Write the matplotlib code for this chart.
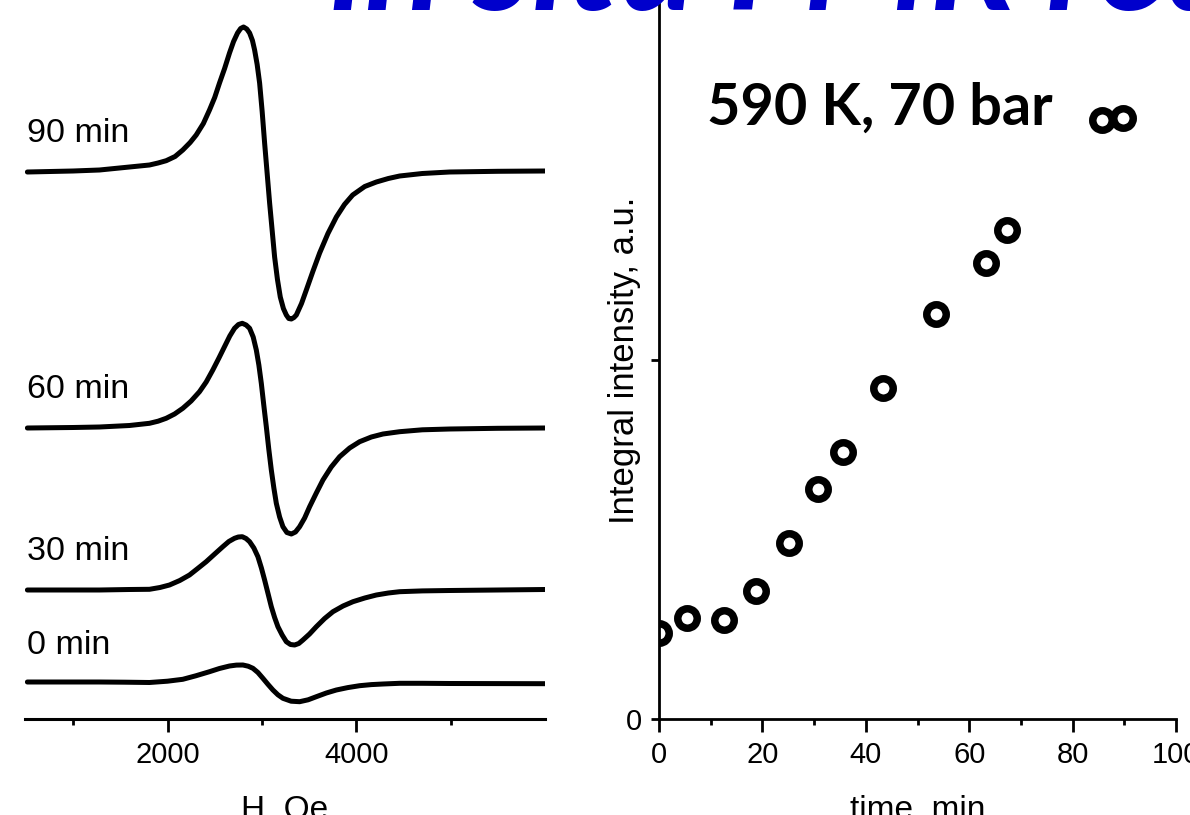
import matplotlib.pyplot as plt

# FMR spectra, field in Oe, signal in a.u. relative to each baseline
field_90 = [515, 1000, 1279, 1597, 1809, 1900, 1986, 2080, 2162, 2240, 2304, 2380, 2445, 2500, 2551,
            2605, 2657, 2700, 2742, 2775, 2806, 2840, 2870, 2900, 2923, 2950, 2976, 3003, 3029, 3056,
            3082, 3110, 3135, 3165, 3195, 3228, 3259, 3285, 3312, 3340, 3365, 3420, 3471, 3540, 3612,
            3700, 3789, 3875, 3962, 4090, 4213, 4340, 4460, 4700, 4990, 5500, 5998]
signal_90 = [-0.5, 0.5, 1.5, 4.5, 6.5, 8.5, 10.8, 15, 21.5, 29, 36.5, 48, 61.5, 74, 88.5,
             103, 118.5, 130, 138.5, 143, 144.5, 142.5, 138.5, 131, 121.5, 107, 88.5, 60, 28.5, -2,
             -31.5, -60, -85.5, -108, -125.5, -137, -143.5, -147, -147.5, -146, -143.5, -132, -118.5, -100, -81.5,
             -62, -45.5, -33, -23.5, -15, -10.5, -7, -4.5, -2, -0.5, 0.2, 0.5]

field_60 = [515, 1000, 1279, 1597, 1809, 1900, 1986, 2075, 2162, 2250, 2339, 2410, 2480, 2545, 2604,
            2660, 2710, 2752, 2792, 2833, 2870, 2908, 2941, 2968, 2994, 3020, 3047, 3073, 3100, 3127,
            3153, 3188, 3223, 3265, 3312, 3356, 3400, 3453, 3506, 3577, 3647, 3735, 3824, 3930, 4036,
            4160, 4283, 4460, 4700, 4990, 5500, 5998]
signal_60 = [0, 0.5, 1, 2.5, 4.7, 6.8, 9.7, 14, 19.7, 27, 36.3, 46, 58, 70, 81.3,
             92, 99.7, 103.5, 104.7, 103, 99.7, 91, 78, 63, 44.7, 23, 1.3, -21, -42, -60,
             -75.3, -89, -98.7, -104.5, -106, -104, -98.7, -90, -78.7, -65, -52, -39, -28.7, -20, -13.7,
             -9, -6, -3.7, -1.8, -1, -0.3, 0]

field_30 = [515, 1000, 1279, 1597, 1809, 1920, 2021, 2130, 2233, 2320, 2410, 2500, 2586, 2650, 2710,
            2750, 2792, 2832, 2870, 2915, 2958, 2995, 3029, 3065, 3100, 3135, 3170, 3215, 3259, 3303,
            3347, 3391, 3435, 3505, 3577, 3665, 3753, 3860, 3965, 4090, 4213, 4340, 4460, 4700, 4990,
            5500, 5998]
signal_30 = [0, 0, 0, 0.5, 0.7, 2.5, 5, 9.5, 15, 21.5, 28.3, 36, 43.3, 48.5, 51.7,
             53, 53.3, 51.5, 48.3, 42, 33.3, 22, 10, -3.5, -16.7, -27.5, -36.7, -45, -51.7, -54.5,
             -55, -53.5, -50, -44, -36.7, -28.5, -21.7, -16, -11.7, -8, -5, -3, -1.7, -0.9, -0.5,
             0, 0.5]

field_0 = [515, 1000, 1279, 1550, 1809, 2000, 2162, 2300, 2445, 2550, 2657, 2730, 2799, 2855, 2905,
           2958, 3011, 3064, 3117, 3170, 3223, 3310, 3400, 3490, 3577, 3683, 3789, 3910, 4036, 4160,
           4283, 4460, 4700, 4990, 5998]
signal_0 = [1, 1, 1, 0.8, 0.5, 1.8, 3.7, 7.2, 11.3, 14.5, 17, 17.9, 18, 16.8, 14.7,
            10.5, 4.7, -1.3, -7, -11.8, -15.3, -18.2, -18.7, -16.8, -13.7, -10, -7, -4.6, -2.7, -1.6,
            -1, -0.3, -0.3, -0.5, -0.7]

spectra = [(field_0, signal_0), (field_30, signal_30), (field_60, signal_60), (field_90, signal_90)]
spectrum_labels = ['0 min', '30 min', '60 min', '90 min']
offsets = [36, 129, 291, 547.5]

# integral intensity vs time
time_min = [0, 5.4, 12.6, 18.7, 25.1, 30.8, 35.6, 43.3, 53.6, 63.2, 67.3, 85.6, 89.8]
intensity = [0.239, 0.281, 0.275, 0.357, 0.490, 0.641, 0.744, 0.922, 1.128, 1.271, 1.362, 1.669, 1.673]

plt.rcParams['font.family'] = ['Liberation Sans', 'DejaVu Sans']

W, H = 1190, 815
fig = plt.figure(figsize=(11.9, 8.15), dpi=100)

# left panel: spectra
ax1 = fig.add_axes([25 / W, (H - 719) / H, 520 / W, 719 / H])
for (f, s), off, lab in zip(spectra, offsets, spectrum_labels):
    ax1.plot(f, [v + off for v in s], color='black', lw=3.6,
             solid_capstyle='round', solid_joinstyle='round')
    ax1.text(515, off + 38, lab, fontsize=24.5, ha='left', va='center')
ax1.set_xlim(490, 6000)
ax1.set_ylim(0, 719)
for sp in ['left', 'right', 'top']:
    ax1.spines[sp].set_visible(False)
ax1.spines['bottom'].set_linewidth(2.2)
ax1.set_yticks([])
ax1.set_xticks([2000, 4000])
ax1.set_xticks([1000, 3000, 5000], minor=True)
ax1.tick_params(axis='x', which='major', direction='out', length=9, width=2, labelsize=21, pad=7)
ax1.tick_params(axis='x', which='minor', direction='out', length=4.5, width=2)
ax1.set_xlabel('H, Oe', fontsize=24, labelpad=18)

# right panel: integral intensity
ax2 = fig.add_axes([659 / W, (H - 719) / H, 517 / W, 718 / H])
ax2.plot(time_min, intensity, linestyle='none', marker='o', ms=14, mew=5.4,
         mfc='white', mec='black')
ax2.set_xlim(0, 100)
ax2.set_ylim(0, 2)
for sp in ['right', 'top']:
    ax2.spines[sp].set_visible(False)
for sp in ['left', 'bottom']:
    ax2.spines[sp].set_linewidth(2)
ax2.set_xticks([0, 20, 40, 60, 80, 100])
ax2.set_xticks([10, 30, 50, 70, 90], minor=True)
ax2.set_yticks([0, 1, 2])
ax2.set_yticklabels(['0', '', ''])
ax2.tick_params(axis='x', which='major', direction='out', length=9, width=2, labelsize=21, pad=7)
ax2.tick_params(axis='x', which='minor', direction='out', length=4.5, width=2)
ax2.tick_params(axis='y', direction='out', length=6, width=2, labelsize=21, pad=6)
ax2.set_xlabel('time, min', fontsize=24, labelpad=18)
ax2.set_ylabel('Integral intensity, a.u.', fontsize=25)
ax2.yaxis.set_label_coords(-0.035, 0.5)

ax2.text(707 / W, 1 - 125 / H, '590 K, 70 bar', transform=fig.transFigure,
         fontsize=41.5, fontweight='bold', family=['Lato', 'DejaVu Sans'],
         ha='left', va='baseline')

# slide title, mostly cut off at the top edge
fig.text(330 / W, 1 - 10 / H, 'in situ FMR reactor', fontsize=103, fontweight='bold',
         fontstyle='italic', color='#0000CC', family=['Lato', 'DejaVu Sans'],
         ha='left', va='baseline')

fig.savefig('out.png', dpi=100)
